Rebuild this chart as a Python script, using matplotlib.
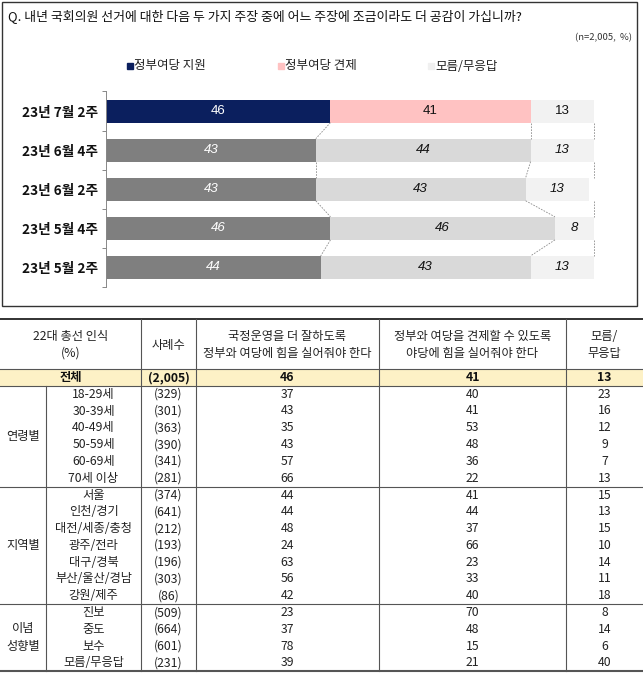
import matplotlib.pyplot as plt

plt.rcParams['font.family'] = ['Noto Sans CJK KR', 'DejaVu Sans']

# ---- trend chart data ----
periods = ['23년 7월 2주', '23년 6월 4주', '23년 6월 2주', '23년 5월 4주', '23년 5월 2주']
support = [46, 43, 43, 46, 44]
check = [41, 44, 43, 46, 43]
dunno = [13, 13, 13, 8, 13]
legend_labels = ['정부여당 지원', '정부여당 견제', '모름/무응답']

# ---- table data ----
head_cols = ['22대 총선 인식\n(%)', '사례수', '국정운영을 더 잘하도록\n정부와 여당에 힘을 실어줘야 한다',
             '정부와 여당을 견제할 수 있도록\n야당에 힘을 실어줘야 한다', '모름/\n무응답']
total_row = ['전체', '(2,005)', 46, 41, 13]
group_names = ['연령별', '지역별', '이념\n성향별']
sub_labels = [
    ['18-29세', '30-39세', '40-49세', '50-59세', '60-69세', '70세 이상'],
    ['서울', '인천/경기', '대전/세종/충청', '광주/전라', '대구/경북', '부산/울산/경남', '강원/제주'],
    ['진보', '중도', '보수', '모름/무응답'],
]
sub_n = [
    [329, 301, 363, 390, 341, 281],
    [374, 641, 212, 193, 196, 303, 86],
    [509, 664, 601, 231],
]
sub_support = [
    [37, 43, 35, 43, 57, 66],
    [44, 44, 48, 24, 63, 56, 42],
    [23, 37, 78, 39],
]
sub_check = [
    [40, 41, 53, 48, 36, 22],
    [41, 44, 37, 66, 23, 33, 40],
    [70, 48, 15, 21],
]
sub_dunno = [
    [23, 16, 12, 9, 7, 13],
    [15, 13, 15, 10, 14, 11, 18],
    [8, 14, 6, 40],
]

W, H = 643, 677
fig = plt.figure(figsize=(W / 100, H / 100), dpi=100)
ax0 = fig.add_axes([0, 0, 1, 1])
ax0.set_xlim(0, W)
ax0.set_ylim(H, 0)
ax0.axis('off')

# outer box of the chart part
ax0.add_patch(plt.Rectangle((2, 2), 635, 304, fill=False, edgecolor='#333333', lw=1))
ax0.text(8, 16, 'Q. 내년 국회의원 선거에 대한 다음 두 가지 주장 중에 어느 주장에 조금이라도 더 공감이 가십니까?',
         fontsize=9.3, va='center', ha='left', color='#111111')
ax0.text(632, 38, '(n=2,005,  %)', fontsize=6.8, va='center', ha='right', color='#333333')

# legend
leg_colors = ['#0b1f5e', '#ffc2c2', '#f0f0f0']
leg_x = [130, 281, 431]
for lx, c, lab in zip(leg_x, leg_colors, legend_labels):
    ax0.plot(lx, 66, marker='s', markersize=5, color=c, linestyle='')
    ax0.text(lx + 4, 66, lab, fontsize=9, va='center', ha='left', color='#222222')

# bar chart
top_px, bot_px = 91.5, 287
axb = fig.add_axes([106 / W, 1 - bot_px / H, 488 / W, (bot_px - top_px) / H])
axb.patch.set_alpha(0)
bh = 0.59
c1 = ['#0b1f5e'] + ['#7f7f7f'] * 4
c2 = ['#ffc2c2'] + ['#d9d9d9'] * 4
c3 = ['#f2f2f2'] * 5
ypos = list(range(len(periods)))
left2 = support
left3 = [a + b for a, b in zip(support, check)]
axb.barh(ypos, support, height=bh, color=c1)
axb.barh(ypos, check, left=left2, height=bh, color=c2)
axb.barh(ypos, dunno, left=left3, height=bh, color=c3)

num_font = ['Liberation Sans', 'DejaVu Sans']
for i in ypos:
    style = 'normal' if i == 0 else 'italic'
    axb.text(support[i] / 2, i, str(support[i]), color='white', ha='center', va='center',
             fontsize=9.5, style=style, family=num_font)
    axb.text(left2[i] + check[i] / 2, i, str(check[i]), color='#111111', ha='center', va='center',
             fontsize=9.5, style=style, family=num_font)
    axb.text(left3[i] + dunno[i] / 2, i, str(dunno[i]), color='#111111', ha='center', va='center',
             fontsize=9.5, style=style, family=num_font)

# connector lines between consecutive bars
for i in range(len(periods) - 1):
    for xa, xb in [(left2[i], left2[i + 1]), (left3[i], left3[i + 1]), (100, 100)]:
        axb.plot([xa, xb], [i + bh / 2, i + 1 - bh / 2], color='#8c8c8c', lw=0.6,
                 linestyle=(0, (2, 1.5)), clip_on=False)

axb.set_xlim(0, 100)
axb.set_ylim(len(periods) - 0.5, -0.5)
axb.set_xticks([])
axb.set_yticks(ypos)
axb.set_yticklabels(periods, fontsize=9.8, fontweight='bold', color='#111111')
axb.set_yticks([y - 0.5 for y in range(len(periods) + 1)], minor=True)
axb.tick_params(axis='y', which='major', length=0, pad=6)
axb.tick_params(axis='y', which='minor', length=3, color='#888888', width=0.7)
for s in ['top', 'right', 'bottom']:
    axb.spines[s].set_visible(False)
axb.spines['left'].set_color('#888888')
axb.spines['left'].set_linewidth(0.7)

# ---- table ----
xb = [0, 46, 141, 196, 379, 566, 643]
t_top, h_bot, rh = 319, 369, 16.8
centers = [(xb[0] + xb[2]) / 2, (xb[2] + xb[3]) / 2, (xb[3] + xb[4]) / 2,
           (xb[4] + xb[5]) / 2, (xb[5] + xb[6]) / 2]
fs = 8.8
tc = '#222222'

for cx, txt in zip(centers, head_cols):
    ax0.text(cx, (t_top + h_bot) / 2 + 1, txt, ha='center', va='center', fontsize=fs,
             color=tc, linespacing=1.4)

# total row
ax0.add_patch(plt.Rectangle((0, h_bot), W, rh, color='#fdf1c6', lw=0))
for cx, v in zip(centers, total_row):
    ax0.text(cx, h_bot + rh / 2, str(v), ha='center', va='center', fontsize=fs,
             fontweight='bold', color='#111111')

y = h_bot + rh
sub_cx = (xb[1] + xb[2]) / 2
dividers = [y]
for g, name in enumerate(group_names):
    g_top = y
    for k in range(len(sub_labels[g])):
        yc = y + rh / 2
        vals = [sub_labels[g][k], f'({sub_n[g][k]})', sub_support[g][k],
                sub_check[g][k], sub_dunno[g][k]]
        xs = [sub_cx] + centers[1:]
        for cx, v in zip(xs, vals):
            ax0.text(cx, yc, str(v), ha='center', va='center', fontsize=fs, color=tc)
        y += rh
    ax0.text(xb[1] / 2, (g_top + y) / 2, name, ha='center', va='center', fontsize=fs,
             color=tc, linespacing=1.5)
    dividers.append(y)
t_bot = y

ax0.plot([0, W], [t_top, t_top], color='#222222', lw=1.3)
ax0.plot([0, W], [h_bot, h_bot], color='#555555', lw=0.8)
for d in dividers[:-1]:
    ax0.plot([0, W], [d, d], color='#555555', lw=0.8)
ax0.plot([0, W], [t_bot, t_bot], color='#555555', lw=1.5)
for x in xb[2:-1]:
    ax0.plot([x, x], [t_top, t_bot], color='#555555', lw=0.8)
ax0.plot([xb[1], xb[1]], [h_bot + rh, t_bot], color='#555555', lw=0.8)

fig.savefig('out.png', dpi=100)
